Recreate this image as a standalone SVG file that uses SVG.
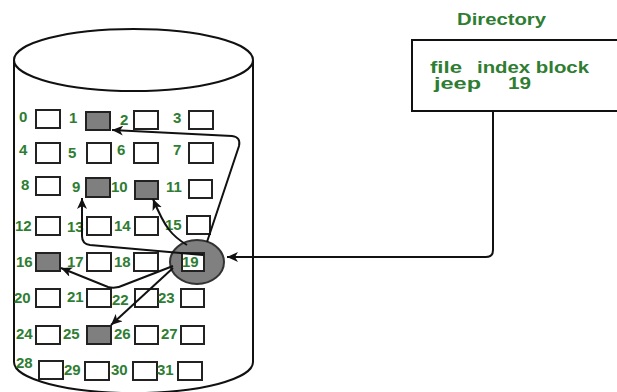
<svg xmlns="http://www.w3.org/2000/svg" width="617" height="392" viewBox="0 0 617 392">
<defs>
<style>
.lbl{font-family:"Liberation Sans",Arial,sans-serif;font-weight:bold;font-size:15px;fill:#2e7d32}
.dir{font-family:"Liberation Sans",Arial,sans-serif;font-weight:bold;font-size:16px;fill:#2e7d32}
.box{fill:#fff;stroke:#222;stroke-width:2}
.used{fill:#7f7f7f;stroke:#222;stroke-width:2}
.cyl{fill:#fff;stroke:#111;stroke-width:2}
.edge{fill:none;stroke:#111;stroke-width:2}
</style>
<marker id="arr" markerUnits="userSpaceOnUse" markerWidth="12" markerHeight="10" refX="11" refY="5" orient="auto">
<path d="M0,0 L11,5 L0,10 L3,5 z" fill="#111"/>
</marker>
</defs>
<rect width="617" height="392" fill="#fff"/>
<g id="disk">
<path class="cyl" d="M14,60 L14,362 A119.5,31 0 0 0 253,362 L253,60"/>
<ellipse class="cyl" cx="133.5" cy="60" rx="119.5" ry="31"/>
</g>
<g id="blocks">
<g id="b0"><rect class="box" x="36" y="110" width="24" height="18"/><text class="lbl" x="19" y="122">0</text></g>
<g id="b1"><rect class="used" x="86" y="112" width="24" height="18"/><text class="lbl" x="69" y="123">1</text></g>
<g id="b2"><rect class="box" x="134" y="111" width="24" height="18"/><text class="lbl" x="120" y="125">2</text></g>
<g id="b3"><rect class="box" x="189" y="111" width="24" height="18"/><text class="lbl" x="173" y="123">3</text></g>
<g id="b4"><rect class="box" x="36" y="143" width="24" height="20"/><text class="lbl" x="19" y="155">4</text></g>
<g id="b5"><rect class="box" x="87" y="143" width="24" height="20"/><text class="lbl" x="68" y="158">5</text></g>
<g id="b6"><rect class="box" x="134" y="143" width="24" height="20"/><text class="lbl" x="117" y="155">6</text></g>
<g id="b7"><rect class="box" x="189" y="143" width="24" height="20"/><text class="lbl" x="173" y="155">7</text></g>
<g id="b8"><rect class="box" x="36" y="177" width="24" height="18"/><text class="lbl" x="21" y="190">8</text></g>
<g id="b9"><rect class="used" x="86" y="178" width="24" height="19"/><text class="lbl" x="72" y="192">9</text></g>
<g id="b10"><rect class="used" x="135" y="181" width="23" height="18"/><text class="lbl" x="111" y="192">10</text></g>
<g id="b11"><rect class="box" x="189" y="180" width="23" height="18"/><text class="lbl" x="166" y="192">11</text></g>
<g id="b12"><rect class="box" x="36" y="217" width="24" height="18"/><text class="lbl" x="15" y="231">12</text></g>
<g id="b13"><rect class="box" x="87" y="217" width="24" height="18"/><text class="lbl" x="67" y="232">13</text></g>
<g id="b14"><rect class="box" x="135" y="217" width="23" height="18"/><text class="lbl" x="114" y="231">14</text></g>
<g id="b15"><rect class="box" x="187" y="216" width="23" height="18"/><text class="lbl" x="165" y="230">15</text></g>
<g id="b16"><rect class="used" x="36" y="253" width="24" height="18"/><text class="lbl" x="16" y="267">16</text></g>
<g id="b17"><rect class="box" x="87" y="253" width="24" height="18"/><text class="lbl" x="67" y="267">17</text></g>
<g id="b18"><rect class="box" x="134" y="253" width="24" height="18"/><text class="lbl" x="114" y="267">18</text></g>
<g id="b19"><ellipse cx="197" cy="262" rx="27" ry="22" fill="#808080" stroke="#333" stroke-width="2"/><rect class="box" x="182" y="253" width="22" height="18"/><text class="lbl" x="182" y="267">19</text></g>
<g id="b20"><rect class="box" x="36" y="289" width="24" height="18"/><text class="lbl" x="14" y="303">20</text></g>
<g id="b21"><rect class="box" x="87" y="289" width="24" height="18"/><text class="lbl" x="67" y="302">21</text></g>
<g id="b22"><rect class="box" x="135" y="289" width="23" height="18"/><text class="lbl" x="112" y="305">22</text></g>
<g id="b23"><rect class="box" x="181" y="289" width="23" height="18"/><text class="lbl" x="158" y="303">23</text></g>
<g id="b24"><rect class="box" x="36" y="326" width="24" height="18"/><text class="lbl" x="16" y="339">24</text></g>
<g id="b25"><rect class="used" x="87" y="326" width="24" height="18"/><text class="lbl" x="63" y="339">25</text></g>
<g id="b26"><rect class="box" x="135" y="326" width="23" height="18"/><text class="lbl" x="114" y="339">26</text></g>
<g id="b27"><rect class="box" x="181" y="326" width="23" height="18"/><text class="lbl" x="161" y="339">27</text></g>
<g id="b28"><rect class="box" x="39" y="361" width="24" height="18"/><text class="lbl" x="16" y="368">28</text></g>
<g id="b29"><rect class="box" x="85" y="362" width="24" height="18"/><text class="lbl" x="64" y="375">29</text></g>
<g id="b30"><rect class="box" x="133" y="362" width="24" height="18"/><text class="lbl" x="111" y="375">30</text></g>
<g id="b31"><rect class="box" x="178" y="362" width="24" height="18"/><text class="lbl" x="157" y="375">31</text></g>
</g>
<g id="directory">
<text class="dir" x="457" y="25" textLength="89" lengthAdjust="spacingAndGlyphs">Directory</text>
<rect x="412" y="40" width="210" height="71" fill="#fff" stroke="#111" stroke-width="2"/>
<text class="dir" x="430" y="73" textLength="32" lengthAdjust="spacingAndGlyphs">file</text>
<text class="dir" x="477" y="73" textLength="112" lengthAdjust="spacingAndGlyphs">index block</text>
<text class="dir" x="434" y="89" textLength="47" lengthAdjust="spacingAndGlyphs">jeep</text>
<text class="dir" x="508" y="89" textLength="23" lengthAdjust="spacingAndGlyphs">19</text>
</g>
<g id="connectors">
<path class="edge" marker-end="url(#arr)" d="M493,111 L493,250 Q493,257 486,257 L227,257"/>
<path class="edge" marker-end="url(#arr)" d="M207,242 L239,146 Q241,137 232,136 L112,130"/>
<path class="edge" marker-end="url(#arr)" d="M203,255 L90,245 Q82,244 82,236 L82,198"/>
<path class="edge" marker-end="url(#arr)" d="M187,245 C172,236 165,228 153,199"/>
<path class="edge" marker-end="url(#arr)" d="M173,266 L124,285 Q116,289 108,287 L61,268"/>
<path class="edge" marker-end="url(#arr)" d="M173,268 L111,325"/>
</g>
</svg>
